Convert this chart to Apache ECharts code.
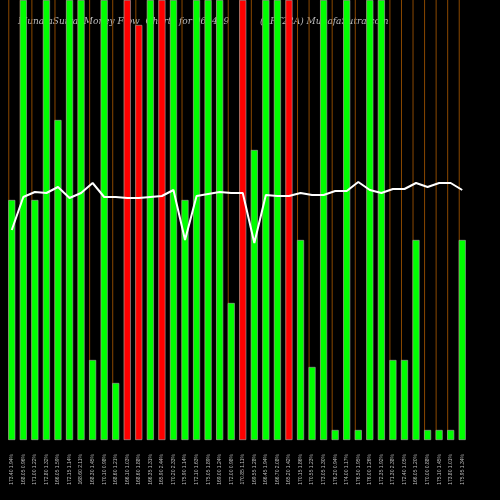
<!DOCTYPE html>
<html><head><meta charset="utf-8">
<script src="https://cdn.jsdelivr.net/npm/echarts@6/dist/echarts.min.js"></script>
<style>html,body{margin:0;background:#000}#c{width:500px;height:500px}</style>
</head><body><div id="c"></div>
<script>
// bar heights (pixel-scale units, 440 = top of plot)
var barVals = [240,440,240,440,320,440,440,80,440,57,440,415,440,440,440,240,440,440,440,137,440,290,440,440,440,200,73,440,10,440,10,440,440,80,80,200,10,10,10,200];
var barUp = [1,1,1,1,1,1,1,1,1,1,0,0,1,0,1,1,1,1,1,1,0,1,1,1,0,1,1,1,1,1,1,1,1,1,1,1,1,1,1,1];
var lineVals = [210,243,248,247,253,242,247,257,243,243,242,242,243,244,250,200,244,246,248,247,247,197,245,244,244,247,245,245,249,249,258,250,247,251,251,257,253,257,257,250];
var labels = ['173.40 1.94%','168.05 0.96%','171.00 1.22%','172.80 1.32%','166.05 1.59%','172.15 1.14%','168.60 2.11%','168.30 1.45%','170.10 0.98%','168.60 1.21%','166.10 1.03%','168.60 1.88%','166.35 1.31%','165.90 2.44%','170.20 2.33%','175.90 1.14%','172.10 1.63%','175.05 1.89%','169.00 1.24%','172.00 0.98%','170.85 1.11%','169.55 1.28%','166.45 1.94%','166.70 2.08%','165.20 1.42%','170.15 1.86%','170.55 1.23%','173.05 1.30%','176.20 0.94%','174.00 1.17%','176.50 1.95%','176.00 1.26%','172.35 1.92%','171.30 2.38%','172.40 1.05%','166.05 1.20%','170.00 0.88%','175.10 1.45%','173.80 1.01%','175.95 1.34%'];

var chart = echarts.init(document.getElementById('c'));
chart.setOption({
  backgroundColor: '#000',
  animation: false,
  graphic: [
    {type:'text', left:18, top:17, style:{text:'MunafaSutra  Money Flow  Charts for 961419', fill:'#bbb', font:'italic 9px "DejaVu Serif"'}},
    {type:'text', left:260, top:17, style:{text:'(AFT22A) MunafaSutra.com', fill:'#bbb', font:'italic 9px "DejaVu Serif"'}}
  ],
  grid: {left:6, right:32, top:0, bottom:60},
  xAxis: {
    type:'category', data: labels, boundaryGap:true,
    axisLine:{show:false}, axisTick:{show:false}, splitLine:{show:false},
    axisLabel:{rotate:90, interval:0, color:'#bbb', fontSize:5, margin:14}
  },
  yAxis: {type:'value', min:0, max:440, show:false, splitLine:{show:false}},
  series: [
    {type:'bar', barWidth:1, barGap:'-100%', silent:true,
     data: barVals.map(function(){return 440;}), itemStyle:{color:'#8a4800'}},
    {type:'bar', barWidth:7, clip:true,
     data: barVals.map(function(v,i){return {value:v, itemStyle:{color: barUp[i] ? '#00ff00' : '#ff0000', borderColor:'#aaa', borderWidth:0.6}};})},
    {type:'line', data: lineVals, symbol:'none', lineStyle:{color:'#fff', width:2}}
  ]
});
</script></body></html>
